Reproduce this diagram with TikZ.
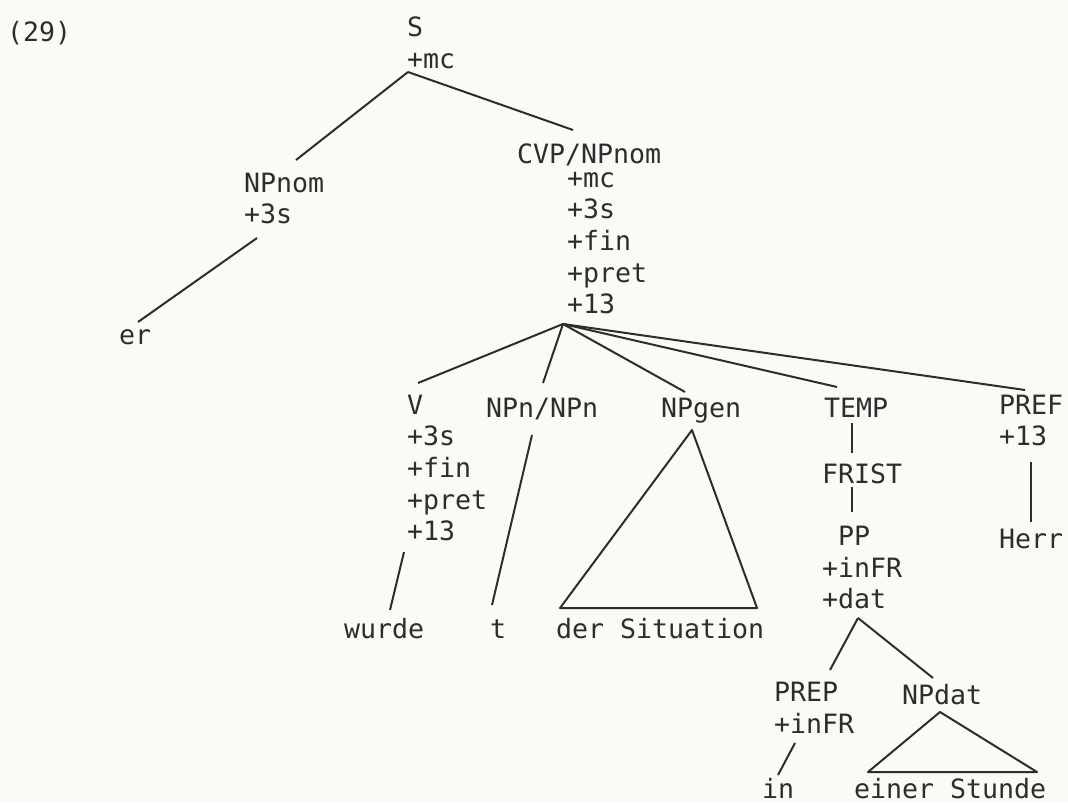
\documentclass[tikz,border=0pt]{standalone}
\usepackage{fontspec}
\setmonofont{DejaVu Sans Mono}
\usepackage{tikz}
\usetikzlibrary{calc}

\definecolor{ink}{RGB}{45,45,45}
\definecolor{paper}{RGB}{250,250,247}

\begin{document}
\begin{tikzpicture}[x=0.5pt, y=-0.5pt, line width=1pt,
    lbl/.style={anchor=north west, inner sep=0pt, align=left, text=ink,
      font=\ttfamily\fontsize{13.3}{15.8}\selectfont, execute at begin node=\strut}]
  \fill[paper] (0,0) rectangle (1068,802);
  \useasboundingbox (0,0) rectangle (1068,802);
  % labels
  \node[lbl] (num) at (6,18) {(29)};
  \node[lbl] (s) at (406,16) {S\\+mc};
  \node[lbl] (npnom) at (243,172) {NPnom\\+3s};
  \node[lbl] (er) at (118,321) {er};
  \node[lbl] (cvp) at (516,140) {CVP/NPnom};
  \node[lbl] (cvpf) at (566,171) {+mc\\+3s\\+fin\\+pret\\+13};
  \node[lbl] (v) at (406,394) {V\\+3s\\+fin\\+pret\\+13};
  \node[lbl] (npn) at (485,394) {NPn/NPn};
  \node[lbl] (npgen) at (660,394) {NPgen};
  \node[lbl] (temp) at (823,394) {TEMP};
  \node[lbl] (pref) at (998,394) {PREF\\+13};
  \node[lbl] (frist) at (821,460) {FRIST};
  \node[lbl] (pp) at (821,525) {\hphantom{+}PP\\+inFR\\+dat};
  \node[lbl] (herr) at (998,525) {Herr};
  \node[lbl] (wurde) at (343,615) {wurde};
  \node[lbl] (t) at (489,615) {t};
  \node[lbl] (sit) at (555,615) {der Situation};
  \node[lbl] (prep) at (773,681) {PREP\\+inFR};
  \node[lbl] (npdat) at (901,681) {NPdat};
  \node[lbl] (in) at (761,775) {in};
  \node[lbl] (einer) at (853,775) {einer Stunde};
  % branches
  \draw[ink] ($(s.north west)+(2,56)$) -- ($(npnom.north west)+(53,-12)$);
  \draw[ink] ($(s.north west)+(2,56)$) -- ($(cvp.north west)+(57,-10)$);
  \draw[ink] ($(npnom.north west)+(14,66)$) -- ($(er.north west)+(20,1)$);
  \foreach \n/\dx/\dy in {v/12/-11, npn/58/-11, npgen/25/-2, temp/14/-7, pref/27/-4} {
    \draw[ink] ($(cvpf.north west)+(-3,153)$) -- ($(\n.north west)+(\dx,\dy)$);
  }
  \draw[ink] ($(v.north west)+(-2,158)$) -- ($(wurde.north west)+(47,-5)$);
  \draw[ink] ($(npn.north west)+(47,41)$) -- ($(t.north west)+(3,-10)$);
  \draw[ink, line join=round] ($(npgen.north west)+(32,36)$) -- ($(sit.north west)+(5,-7)$)
    -- ($(sit.north west)+(202,-7)$) -- cycle;
  \draw[ink] ($(temp.north west)+(29,29)$) -- ($(frist.north west)+(31,-7)$);
  \draw[ink] ($(frist.north west)+(31,27)$) -- ($(pp.north west)+(31,-13)$);
  \draw[ink] ($(pref.north west)+(33,68)$) -- ($(herr.north west)+(33,-3)$);
  \draw[ink] ($(pp.north west)+(37,93)$) -- ($(prep.north west)+(57,-11)$);
  \draw[ink] ($(pp.north west)+(37,93)$) -- ($(npdat.north west)+(32,-3)$);
  \draw[ink] ($(prep.north west)+(22,62)$) -- ($(in.north west)+(17,0)$);
  \draw[ink, line join=round] ($(npdat.north west)+(39,31)$) -- ($(einer.north west)+(15,-3)$)
    -- ($(einer.north west)+(184,-3)$) -- cycle;
\end{tikzpicture}
\end{document}
